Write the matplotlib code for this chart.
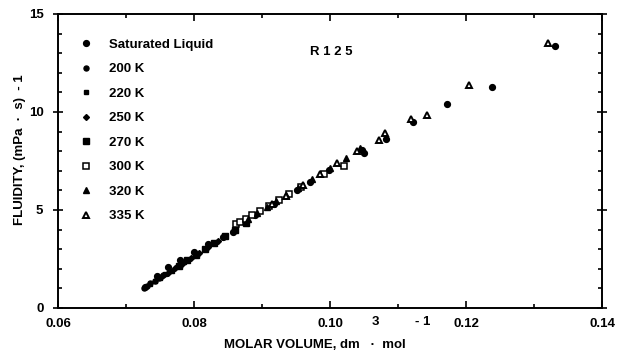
import matplotlib
matplotlib.use('Agg')
import matplotlib.pyplot as plt
from matplotlib.ticker import MultipleLocator, FormatStrFormatter

plt.rcParams['font.family'] = ['Liberation Sans', 'DejaVu Sans']
plt.rcParams['font.weight'] = 'bold'
plt.rcParams['font.size'] = 9.5

# molar volume (dm3/mol) and fluidity (1/(mPa s))
sat_x = [0.0728, 0.0745, 0.0762, 0.0780, 0.0800, 0.0820, 0.0842, 0.0858, 0.0890,
         0.0918, 0.0952, 0.0971, 0.0998, 0.1047, 0.1050, 0.1083, 0.1122, 0.1172,
         0.1238, 0.1331]
sat_y = [1.05, 1.62, 2.08, 2.47, 2.85, 3.25, 3.62, 3.89, 4.75,
         5.30, 6.02, 6.44, 7.04, 8.06, 7.89, 8.62, 9.51, 10.42,
         11.29, 13.38]

k200_x = [0.0726, 0.0731, 0.0736, 0.0742, 0.0748, 0.0755]
k200_y = [1.00, 1.12, 1.26, 1.38, 1.52, 1.68]

k220_x = [0.0735, 0.0742, 0.0750, 0.0758, 0.0767, 0.0776, 0.0786]
k220_y = [1.20, 1.36, 1.54, 1.71, 1.91, 2.12, 2.34]

k250_x = [0.0752, 0.0762, 0.0772, 0.0783, 0.0795, 0.0808, 0.0821, 0.0835]
k250_y = [1.58, 1.80, 2.03, 2.27, 2.54, 2.83, 3.12, 3.43]

k270_x = [0.0778, 0.0790, 0.0803, 0.0816, 0.0830, 0.0845, 0.0860, 0.0876]
k270_y = [2.16, 2.43, 2.72, 3.01, 3.32, 3.65, 3.99, 4.35]

k300_x = [0.0862, 0.0868, 0.0876, 0.0886, 0.0897, 0.0910, 0.0925, 0.0940, 0.0958,
          0.0991, 0.1020]
k300_y = [4.30, 4.38, 4.52, 4.72, 4.95, 5.22, 5.52, 5.82, 6.16,
          6.84, 7.24]

k320_x = [0.0880, 0.0893, 0.0907, 0.0921, 0.0936, 0.0953, 0.0973, 0.1000, 0.1024, 0.1044]
k320_y = [4.55, 4.85, 5.15, 5.45, 5.78, 6.12, 6.58, 7.16, 7.67, 8.18]

k335_x = [0.0915, 0.0935, 0.0960, 0.0985, 0.1010, 0.1040, 0.1072, 0.1081, 0.1119,
          0.1142, 0.1204, 0.1320]
k335_y = [5.30, 5.72, 6.28, 6.85, 7.38, 8.02, 8.57, 8.91, 9.63,
          9.86, 11.38, 13.54]

fig = plt.figure(figsize=(6.2, 3.5), dpi=100)
ax = fig.add_axes([58/620, 1-308/350, 544/620, 294/350])

ax.plot(sat_x, sat_y, 'o', color='black', ms=4.2, label='Saturated Liquid')
ax.plot(k200_x, k200_y, 'o', color='black', ms=3.6, label='200 K')
ax.plot(k220_x, k220_y, 's', color='black', ms=3.2, label='220 K')
ax.plot(k250_x, k250_y, 'D', color='black', ms=3.0, label='250 K')
ax.plot(k270_x, k270_y, 's', color='black', ms=3.8, label='270 K')
ax.plot(k300_x, k300_y, 's', mfc='white', mec='black', mew=1.1, ms=4.0, label='300 K')
ax.plot(k320_x, k320_y, '^', color='black', ms=4.2, label='320 K')
ax.plot(k335_x, k335_y, '^', mfc='white', mec='black', mew=1.4, ms=4.6, label='335 K')

ax.set_xlim(0.06, 0.14)
ax.set_ylim(0, 15)
ax.xaxis.set_major_locator(MultipleLocator(0.02))
ax.xaxis.set_minor_locator(MultipleLocator(0.01))
ax.xaxis.set_major_formatter(FormatStrFormatter('%.2f'))
ax.yaxis.set_major_locator(MultipleLocator(5))
ax.yaxis.set_minor_locator(MultipleLocator(1))
ax.tick_params(which='both', direction='in', top=True, right=True, width=1.2)
ax.tick_params(which='major', length=5, pad=7)
ax.tick_params(which='minor', length=3)
ax.tick_params(axis='y', which='major', direction='inout', length=7)
for s in ax.spines.values():
    s.set_linewidth(1.4)

ax.legend(loc='upper left', bbox_to_anchor=(0.03, 0.934), frameon=False,
          labelspacing=0.93, handletextpad=1.2, handlelength=1.0, borderaxespad=0)

ax.text(0.463, 0.87, 'R 1 2 5', transform=ax.transAxes, va='center')

fig.text(315/620, 1-345/350, 'MOLAR VOLUME, dm   \u00b7  mol', ha='center', va='center')
fig.text(375/620, 1-322/350, '3', ha='center', va='center')
fig.text(423/620, 1-322/350, '- 1', ha='center', va='center')
fig.text(20/620, 1-150/350, 'FLUIDITY, (mPa  \u00b7  s)  - 1', rotation=90,
         ha='center', va='center')

fig.savefig('out.png', dpi=100)
